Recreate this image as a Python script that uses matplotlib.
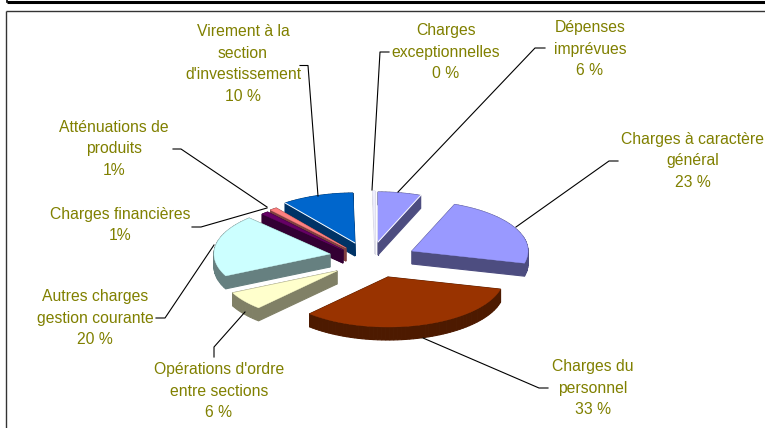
import numpy as np
import matplotlib
matplotlib.use("Agg")
import matplotlib.pyplot as plt
from matplotlib.patches import Polygon

# Data
categories = ["Dépenses\nimprévues", "Charges à caractère\ngénéral", "Charges du\npersonnel",
              "Opérations d'ordre\nentre sections", "Autres charges\ngestion courante",
              "Charges financières", "Atténuations de\nproduits",
              "Virement à la\nsection\nd'investissement", "Charges\nexceptionnelles"]
values = [6, 23, 33, 6, 20, 1, 1, 10, 0.3]
value_labels = ["6 %", "23 %", "33 %", "6 %", "20 %", "1%", "1%", "10 %", "0 %"]

# Style
top_colors = ["#9999FF", "#9999FF", "#993300", "#FFFFCC", "#CCFFFF", "#660066", "#FF8080", "#0066CC", "#EEEEFF"]
side_colors = ["#4D4D80", "#4D4D80", "#4D1A00", "#808066", "#668080", "#330033", "#804040", "#003366", "#DDDDE8"]
apex = [(378, 242), (412, 251), (388, 277), (337, 271), (330, 254), (343, 250), (346, 248), (355, 243), (375, 241)]
label_xy = [(590, 49), (693, 161), (593, 388), (219, 391), (95, 318), (120, 225), (114, 149), (243, 64), (446, 52)]
leaders = [[(545, 48), (535, 48), (398, 192)],
           [(618, 161), (609, 161), (516, 227)],
           [(548, 388), (539, 388), (423, 338)],
           [(214, 357), (214, 347), (245, 312)],
           [(156, 318), (165, 318), (214, 245)],
           [(192, 227), (201, 227), (267, 208)],
           [(173, 149), (181, 149), (267, 207)],
           [(300, 65.5), (308, 65.5), (318, 196)],
           [(389, 52), (380, 52), (372, 190)]]
highlight_end = {0: "end", 7: "start"}
RX, RY, DEPTH = 116, 50, 13
TEXT = "#808000"

plt.rcParams["font.family"] = ["Liberation Sans", "DejaVu Sans"]
fig = plt.figure(figsize=(7.65, 4.28), dpi=100)
ax = fig.add_axes([0, 0, 1, 1])
ax.set_xlim(0, 765)
ax.set_ylim(428, 0)
ax.axis("off")

# Frames
ax.plot([7.5, 765], [2, 2], color="black", lw=2.2, solid_capstyle="butt")
ax.plot([7.5, 7.5], [0, 2], color="black", lw=1.2)
ax.plot([6.5, 765], [11, 11], color="#333333", lw=1.0, solid_capstyle="butt")
ax.plot([6.5, 6.5], [11, 428], color="#333333", lw=1.0, solid_capstyle="butt")

# Wedges
fractions = np.array(values) / sum(values)
edges = np.concatenate([[0], np.cumsum(fractions)]) * 360
wedges = []
for i in range(len(values)):
    t = np.radians(np.linspace(edges[i], edges[i + 1], max(3, int((edges[i + 1] - edges[i]) / 2) + 2)))
    x = apex[i][0] + RX * np.sin(t)
    y = apex[i][1] - RY * np.cos(t)
    wedges.append((i, np.column_stack([np.r_[apex[i][0], x], np.r_[apex[i][1], y]])))

for order, (i, pts) in enumerate(sorted(wedges, key=lambda w: w[1][:, 1].mean())):
    n = len(pts)
    z = 2 + order / 100
    for j in range(n):
        a, b = pts[j], pts[(j + 1) % n]
        quad = [a, b, b + (0, DEPTH), a + (0, DEPTH)]
        ax.add_patch(Polygon(quad, closed=True, fc=side_colors[i], ec=side_colors[i], lw=0.8, zorder=z))
    ax.add_patch(Polygon(pts, closed=True, fc=top_colors[i], ec=top_colors[i], lw=0.3, zorder=z + 0.001))
    if i in highlight_end:
        seg = pts[[0, 1]] if highlight_end[i] == "start" else pts[[0, -1]]
        ax.plot(seg[:, 0], seg[:, 1], color="white", lw=0.7, zorder=z + 0.002)

# Leader lines and labels
for pts in leaders:
    p = np.array(pts)
    ax.plot(p[:, 0], p[:, 1], color="black", lw=0.8, zorder=5)
for cat, val, (x, y) in zip(categories, value_labels, label_xy):
    ax.text(x, y, cat + "\n" + val, color=TEXT, fontsize=11.3, ha="center", va="center",
            linespacing=1.56, zorder=6)

fig.savefig("out.png", dpi=100)
